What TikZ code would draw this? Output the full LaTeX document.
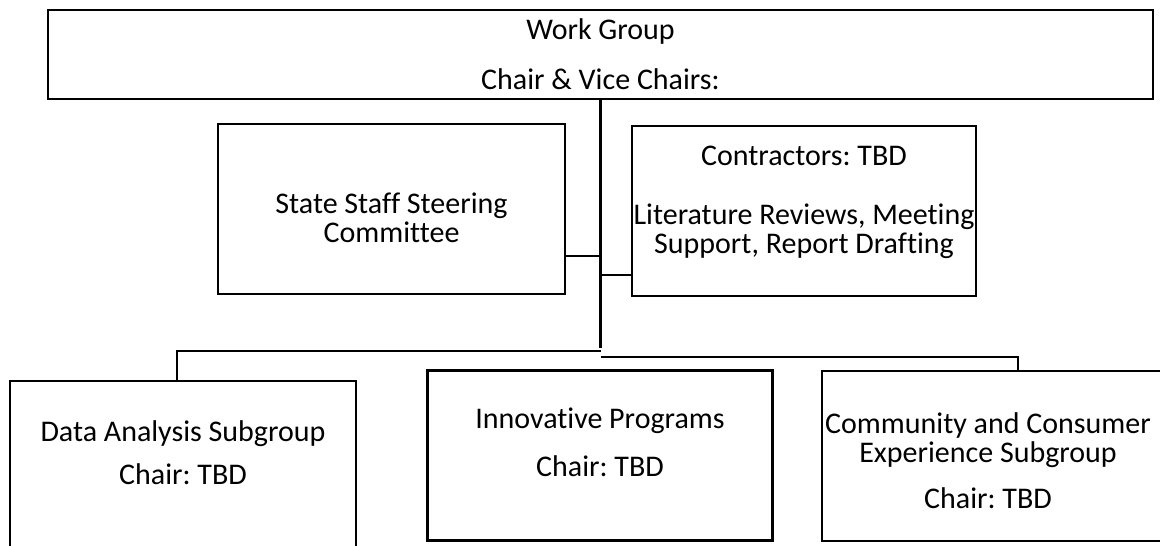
\documentclass[tikz,border=0pt]{standalone}
\usepackage{fontspec}
\setmainfont{Carlito}[Ligatures=NoCommon]
\usetikzlibrary{positioning}
\frenchspacing
\begin{document}
\begin{tikzpicture}[x=1pt, y=-1pt,
  box/.style={draw, line width=2.2pt, inner sep=0pt,
    minimum width=345pt, minimum height=170pt},
  txt/.style={align=center, inner sep=0pt, font=\fontsize{30}{29}\selectfont},
  link/.style={line width=2.2pt}]
  \useasboundingbox (0,0) rectangle (1160,546);
  \node [box, line width=2.8pt, minimum width=1105pt, minimum height=89pt] (wg) at (600.5,54.5) {};
  \node [txt] (wgtext) at (wg.center) {Work Group\\[21pt]Chair \& Vice Chairs:};
  \node [box, minimum width=347pt] (steer) at (391.5,209) {};
  \node [txt] (steertext) at ([yshift=-9pt]steer.center) {State Staff Steering\\Committee};
  \node [box, minimum width=344pt] (contr) at (804,211) {};
  \node [txt] (contrtext) at ([yshift=9pt]contr.center)
    {Contractors: TBD\\[30pt]Literature Reviews, Meeting\\Support, Report Drafting};
  \node [box, minimum width=346pt] (data) at (183,466) {};
  \node [txt] (datatext) at ([yshift=13pt]data.center) {Data Analysis Subgroup\\[14pt]Chair: TBD};
  \node [box] (innov) at (600,455.5) {};
  \node [txt] (innovtext) at ([yshift=13pt]innov.center) {Innovative Programs\\[19pt]Chair: TBD};
  \node [box, minimum width=340pt] (comm) at (992,456) {};
  \node [txt] (commtext) at ([shift={(-4pt,-5pt)}]comm.center)
    {Community and Consumer\\Experience Subgroup\\[17pt]Chair: TBD};
  % trunk and bus
  \coordinate (hub) at (wg.south |- 0,348);
  \draw [link] (wg.south) -- (hub);
  \draw [link] ([yshift=-47pt]steer.east) -- ([yshift=-47pt]steer.east -| hub);
  \draw [link] ([yshift=-64pt]contr.west) -- ([yshift=-64pt]contr.west -| hub);
  \draw [link] ([xshift=-6pt]data.north) |- ([yshift=-3pt]hub);
  \draw [link] ([xshift=26pt]comm.north) |- ([yshift=-9pt]hub);
\end{tikzpicture}
\end{document}
